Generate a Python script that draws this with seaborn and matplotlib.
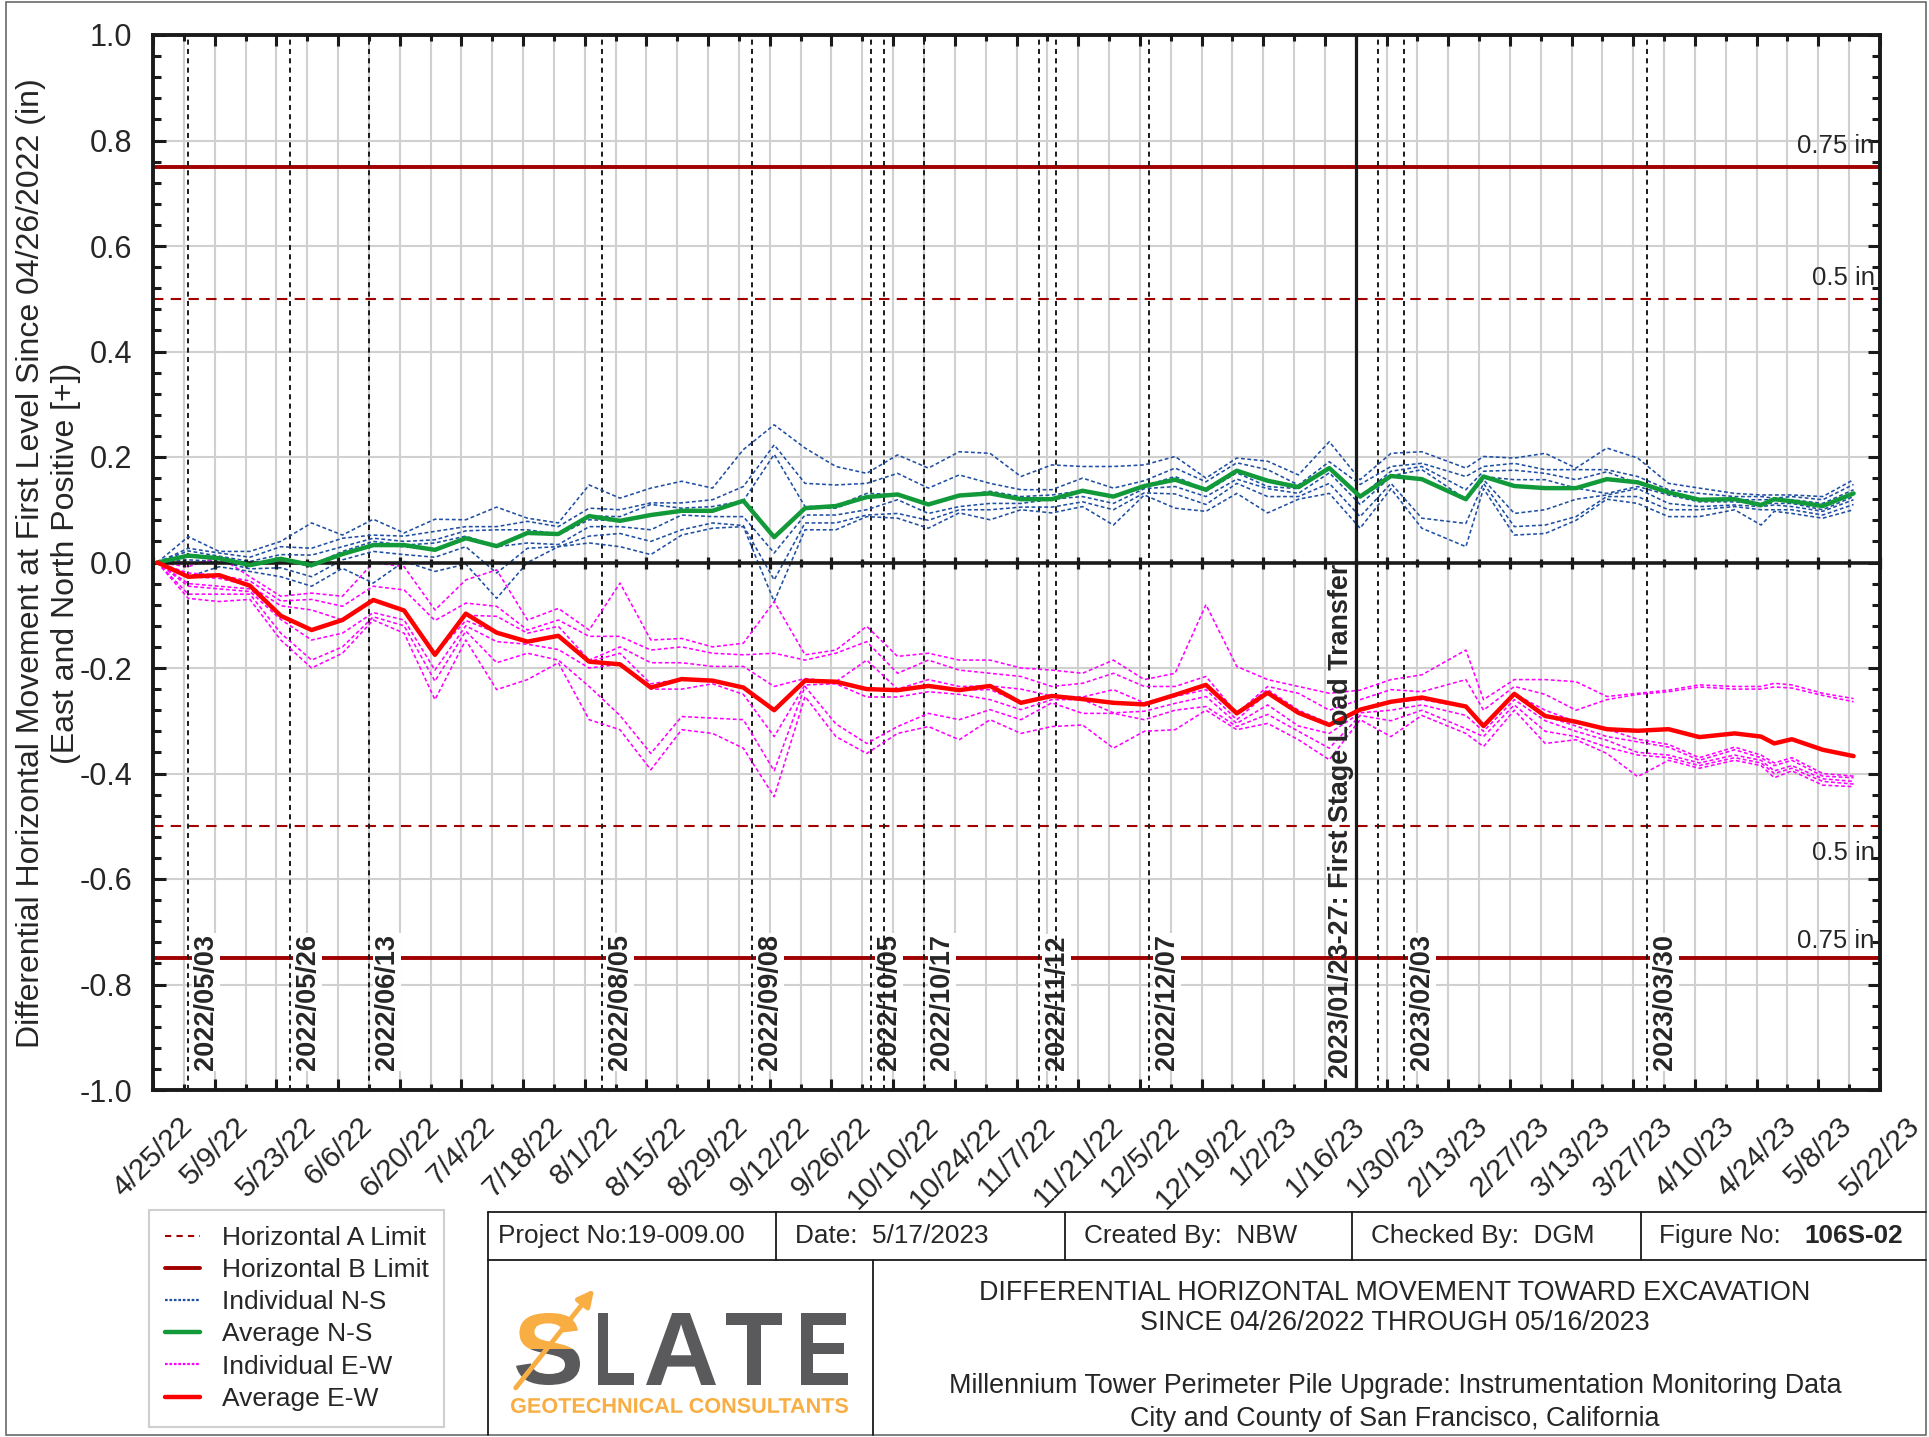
import matplotlib
matplotlib.use("Agg")
import matplotlib.pyplot as plt
import matplotlib.dates as mdates
import matplotlib.transforms as mtrans
from matplotlib.lines import Line2D
from matplotlib.patches import Rectangle, FancyArrowPatch, PathPatch
from matplotlib.textpath import TextPath
from matplotlib.font_manager import FontProperties
from matplotlib.ticker import FormatStrFormatter
import numpy as np
import pandas as pd
import seaborn as sns

# ------------------------------------------------------------
# data
# ------------------------------------------------------------
dates = [
    "2022-04-26", "2022-05-03", "2022-05-10", "2022-05-17", "2022-05-24", "2022-05-31",
    "2022-06-07", "2022-06-14", "2022-06-21", "2022-06-28", "2022-07-05", "2022-07-12",
    "2022-07-19", "2022-07-26", "2022-08-02", "2022-08-09", "2022-08-16", "2022-08-23",
    "2022-08-30", "2022-09-06", "2022-09-13", "2022-09-20", "2022-09-27", "2022-10-04",
    "2022-10-11", "2022-10-18", "2022-10-25", "2022-11-01", "2022-11-08", "2022-11-15",
    "2022-11-22", "2022-11-29", "2022-12-06", "2022-12-13", "2022-12-20", "2022-12-27",
    "2023-01-03", "2023-01-10", "2023-01-17", "2023-01-24", "2023-01-31", "2023-02-07",
    "2023-02-17", "2023-02-21", "2023-02-28", "2023-03-07", "2023-03-14", "2023-03-21",
    "2023-03-28", "2023-04-04", "2023-04-11", "2023-04-19", "2023-04-25", "2023-04-28",
    "2023-05-02", "2023-05-09", "2023-05-16",
]

avg_ns = [0.000, 0.013, 0.008, -0.005, 0.007, -0.005, 0.016, 0.033, 0.033, 0.024,
          0.046, 0.031, 0.056, 0.054, 0.088, 0.079, 0.090, 0.098, 0.098, 0.117,
          0.048, 0.103, 0.107, 0.124, 0.129, 0.110, 0.127, 0.131, 0.120, 0.120,
          0.136, 0.125, 0.145, 0.157, 0.138, 0.174, 0.155, 0.143, 0.179, 0.125,
          0.164, 0.158, 0.120, 0.163, 0.145, 0.141, 0.141, 0.158, 0.152, 0.133,
          0.119, 0.120, 0.109, 0.120, 0.116, 0.107, 0.131]

avg_ew = [0.000, -0.027, -0.024, -0.044, -0.101, -0.128, -0.109, -0.071, -0.091, -0.175,
          -0.097, -0.133, -0.150, -0.139, -0.188, -0.193, -0.237, -0.221, -0.224, -0.237,
          -0.280, -0.224, -0.226, -0.240, -0.242, -0.234, -0.242, -0.234, -0.266, -0.253,
          -0.259, -0.266, -0.269, -0.251, -0.232, -0.286, -0.247, -0.285, -0.308, -0.279,
          -0.264, -0.256, -0.273, -0.310, -0.249, -0.291, -0.302, -0.316, -0.319, -0.316,
          -0.331, -0.324, -0.330, -0.343, -0.335, -0.355, -0.367]

# individual gauges, one row per reading date, 7 gauges per direction
ns_spread = [
    [0, 0, 0, 0, 0, 0, 0],
    [0.049, 0.027, 0.022, 0.015, 0.012, 0.005, -0.027],
    [0.021, 0.018, 0.012, 0.010, 0.008, 0.002, -0.008],
    [0.021, 0.010, 0.002, -0.003, -0.005, -0.012, -0.017],
    [0.040, 0.030, 0.015, 0.008, 0.005, -0.010, -0.027],
    [0.075, 0.027, 0.014, -0.005, -0.008, -0.027, -0.045],
    [0.052, 0.046, 0.030, 0.021, 0.016, 0.005, -0.011],
    [0.082, 0.052, 0.046, 0.040, 0.033, 0.021, -0.039],
    [0.056, 0.050, 0.040, 0.033, 0.030, 0.015, 0.002],
    [0.082, 0.059, 0.043, 0.037, 0.024, 0.010, -0.017],
    [0.081, 0.068, 0.060, 0.050, 0.046, 0.030, -0.003],
    [0.105, 0.068, 0.062, 0.031, 0.030, -0.020, -0.068],
    [0.084, 0.078, 0.062, 0.056, 0.037, 0.027, 0.000],
    [0.075, 0.068, 0.054, 0.052, 0.034, 0.030, 0.030],
    [0.147, 0.103, 0.088, 0.081, 0.068, 0.050, 0.037],
    [0.122, 0.100, 0.087, 0.079, 0.068, 0.055, 0.030],
    [0.141, 0.113, 0.110, 0.090, 0.062, 0.040, 0.015],
    [0.154, 0.113, 0.103, 0.098, 0.090, 0.062, 0.052],
    [0.141, 0.119, 0.106, 0.098, 0.087, 0.075, 0.065],
    [0.214, 0.144, 0.117, 0.115, 0.087, 0.070, 0.068],
    [0.261, 0.223, 0.205, 0.048, 0.018, -0.033, -0.074],
    [0.217, 0.150, 0.106, 0.103, 0.090, 0.075, 0.062],
    [0.182, 0.147, 0.107, 0.103, 0.090, 0.075, 0.062],
    [0.169, 0.150, 0.131, 0.124, 0.100, 0.090, 0.087],
    [0.204, 0.169, 0.129, 0.128, 0.119, 0.093, 0.084],
    [0.179, 0.141, 0.110, 0.109, 0.093, 0.080, 0.065],
    [0.210, 0.166, 0.127, 0.125, 0.106, 0.100, 0.094],
    [0.207, 0.150, 0.135, 0.131, 0.112, 0.100, 0.081],
    [0.163, 0.138, 0.125, 0.120, 0.112, 0.105, 0.100],
    [0.185, 0.138, 0.128, 0.122, 0.120, 0.105, 0.094],
    [0.182, 0.160, 0.136, 0.135, 0.125, 0.115, 0.106],
    [0.182, 0.141, 0.125, 0.125, 0.112, 0.100, 0.071],
    [0.185, 0.155, 0.145, 0.145, 0.140, 0.132, 0.128],
    [0.201, 0.179, 0.163, 0.157, 0.144, 0.130, 0.103],
    [0.160, 0.153, 0.138, 0.135, 0.125, 0.110, 0.097],
    [0.198, 0.189, 0.174, 0.170, 0.158, 0.150, 0.131],
    [0.192, 0.176, 0.155, 0.144, 0.140, 0.125, 0.094],
    [0.166, 0.147, 0.143, 0.140, 0.131, 0.125, 0.120],
    [0.229, 0.191, 0.180, 0.179, 0.170, 0.150, 0.131],
    [0.157, 0.148, 0.125, 0.125, 0.110, 0.087, 0.065],
    [0.207, 0.182, 0.173, 0.164, 0.163, 0.150, 0.140],
    [0.210, 0.188, 0.182, 0.176, 0.158, 0.084, 0.065],
    [0.179, 0.163, 0.138, 0.120, 0.119, 0.074, 0.030],
    [0.201, 0.182, 0.173, 0.163, 0.157, 0.150, 0.140],
    [0.198, 0.188, 0.175, 0.157, 0.093, 0.068, 0.052],
    [0.207, 0.176, 0.169, 0.157, 0.100, 0.071, 0.055],
    [0.179, 0.176, 0.157, 0.141, 0.120, 0.087, 0.080],
    [0.217, 0.176, 0.172, 0.131, 0.128, 0.125, 0.120],
    [0.198, 0.163, 0.150, 0.144, 0.140, 0.125, 0.112],
    [0.150, 0.138, 0.131, 0.128, 0.112, 0.100, 0.087],
    [0.141, 0.131, 0.119, 0.115, 0.106, 0.100, 0.087],
    [0.131, 0.125, 0.119, 0.115, 0.109, 0.106, 0.100],
    [0.128, 0.125, 0.119, 0.112, 0.106, 0.100, 0.071],
    [0.128, 0.122, 0.119, 0.112, 0.109, 0.100, 0.097],
    [0.128, 0.125, 0.119, 0.112, 0.106, 0.100, 0.093],
    [0.125, 0.119, 0.112, 0.100, 0.097, 0.090, 0.084],
    [0.157, 0.148, 0.138, 0.125, 0.119, 0.110, 0.100],
]

ew_spread = [
    [0, 0, 0, 0, 0, 0, 0],
    [-0.008, -0.020, -0.027, -0.040, -0.045, -0.060, -0.068],
    [0.011, -0.024, -0.030, -0.045, -0.050, -0.060, -0.074],
    [-0.027, -0.035, -0.044, -0.050, -0.055, -0.060, -0.070],
    [-0.064, -0.073, -0.082, -0.101, -0.108, -0.134, -0.147],
    [-0.058, -0.070, -0.090, -0.128, -0.147, -0.185, -0.200],
    [-0.064, -0.083, -0.109, -0.110, -0.134, -0.160, -0.172],
    [0.000, -0.045, -0.070, -0.071, -0.095, -0.103, -0.109],
    [-0.008, -0.052, -0.090, -0.091, -0.109, -0.120, -0.134],
    [-0.090, -0.110, -0.172, -0.175, -0.204, -0.225, -0.260],
    [-0.033, -0.077, -0.100, -0.110, -0.120, -0.130, -0.147],
    [-0.014, -0.083, -0.102, -0.133, -0.150, -0.190, -0.241],
    [-0.109, -0.128, -0.134, -0.150, -0.155, -0.172, -0.222],
    [-0.087, -0.109, -0.121, -0.139, -0.165, -0.185, -0.190],
    [-0.128, -0.140, -0.185, -0.188, -0.200, -0.235, -0.298],
    [-0.039, -0.140, -0.160, -0.172, -0.193, -0.290, -0.317],
    [-0.147, -0.166, -0.190, -0.230, -0.240, -0.362, -0.393],
    [-0.144, -0.160, -0.190, -0.221, -0.240, -0.292, -0.317],
    [-0.160, -0.172, -0.197, -0.224, -0.230, -0.295, -0.324],
    [-0.153, -0.175, -0.197, -0.237, -0.250, -0.298, -0.352],
    [-0.074, -0.172, -0.235, -0.280, -0.330, -0.395, -0.444],
    [-0.175, -0.185, -0.220, -0.224, -0.232, -0.235, -0.254],
    [-0.166, -0.172, -0.226, -0.229, -0.230, -0.306, -0.330],
    [-0.121, -0.150, -0.185, -0.240, -0.255, -0.343, -0.362],
    [-0.178, -0.210, -0.240, -0.242, -0.255, -0.311, -0.324],
    [-0.172, -0.185, -0.222, -0.234, -0.245, -0.286, -0.311],
    [-0.185, -0.204, -0.235, -0.242, -0.250, -0.298, -0.336],
    [-0.185, -0.210, -0.234, -0.241, -0.260, -0.279, -0.298],
    [-0.200, -0.216, -0.240, -0.266, -0.279, -0.298, -0.324],
    [-0.204, -0.235, -0.253, -0.254, -0.260, -0.266, -0.311],
    [-0.210, -0.229, -0.255, -0.259, -0.260, -0.286, -0.308],
    [-0.185, -0.210, -0.241, -0.266, -0.285, -0.286, -0.352],
    [-0.222, -0.235, -0.266, -0.269, -0.282, -0.298, -0.320],
    [-0.210, -0.235, -0.251, -0.254, -0.267, -0.280, -0.317],
    [-0.080, -0.216, -0.232, -0.241, -0.254, -0.273, -0.280],
    [-0.197, -0.286, -0.286, -0.298, -0.305, -0.311, -0.317],
    [-0.222, -0.235, -0.241, -0.247, -0.270, -0.288, -0.305],
    [-0.235, -0.248, -0.280, -0.285, -0.310, -0.320, -0.336],
    [-0.248, -0.280, -0.305, -0.308, -0.324, -0.352, -0.374],
    [-0.242, -0.260, -0.279, -0.280, -0.285, -0.290, -0.298],
    [-0.222, -0.241, -0.264, -0.265, -0.280, -0.300, -0.330],
    [-0.213, -0.245, -0.256, -0.260, -0.270, -0.280, -0.290],
    [-0.166, -0.222, -0.273, -0.274, -0.290, -0.315, -0.324],
    [-0.260, -0.280, -0.310, -0.311, -0.320, -0.330, -0.349],
    [-0.222, -0.235, -0.249, -0.250, -0.260, -0.270, -0.280],
    [-0.222, -0.250, -0.280, -0.291, -0.300, -0.320, -0.343],
    [-0.226, -0.280, -0.302, -0.310, -0.320, -0.330, -0.336],
    [-0.254, -0.260, -0.316, -0.330, -0.337, -0.350, -0.362],
    [-0.248, -0.250, -0.335, -0.340, -0.360, -0.365, -0.406],
    [-0.242, -0.245, -0.345, -0.350, -0.365, -0.370, -0.375],
    [-0.232, -0.236, -0.370, -0.375, -0.380, -0.385, -0.390],
    [-0.235, -0.240, -0.350, -0.355, -0.365, -0.370, -0.375],
    [-0.235, -0.240, -0.365, -0.370, -0.375, -0.380, -0.385],
    [-0.229, -0.236, -0.380, -0.385, -0.395, -0.400, -0.408],
    [-0.232, -0.238, -0.370, -0.375, -0.385, -0.390, -0.395],
    [-0.248, -0.252, -0.400, -0.405, -0.410, -0.415, -0.422],
    [-0.258, -0.264, -0.405, -0.408, -0.415, -0.420, -0.425],
]

event_dates = ["2022-05-03", "2022-05-26", "2022-06-13", "2022-08-05", "2022-09-08",
               "2022-10-05", "2022-10-17", "2022-11-12", "2022-12-07", "2023-02-03",
               "2023-03-30"]
event_labels = ["2022/05/03", "2022/05/26", "2022/06/13", "2022/08/05", "2022/09/08",
                "2022/10/05", "2022/10/17", "2022/11/12", "2022/12/07", "2023/02/03",
                "2023/03/30"]
extra_event_dates = ["2022-10-08", "2022-11-16", "2023-01-28"]
load_transfer_date = "2023-01-23"
load_transfer_label = "2023/01/23-27: First Stage Load Transfer"

limit_b = 0.75
limit_a = 0.5

legend_labels = ["Horizontal A Limit", "Horizontal B Limit", "Individual N-S",
                 "Average N-S", "Individual E-W", "Average E-W"]

# ------------------------------------------------------------
# style
# ------------------------------------------------------------
sns.set_theme(style="white")
plt.rcParams['font.family'] = ['Liberation Sans', 'DejaVu Sans']
plt.rcParams['axes.unicode_minus'] = False

BLUE = '#1F4FA3'
GREEN = '#129A3A'
RED = '#FF0000'
MAGENTA = '#FF00FF'
DARKRED = '#A00000'
GRID = '#d0d0d0'
ORANGE = '#F8AE42'
LOGO_GRAY = '#5A5A5C'

W, H = 1929, 1437
fig = plt.figure(figsize=(W / 100, H / 100), dpi=100)
fig.patch.set_facecolor('white')


def fx(x):
    return x / W


def fy(y):
    return 1 - y / H


ax = fig.add_axes([fx(153), fy(1090), fx(1880) - fx(153), fy(35) - fy(1090)])

day = pd.to_datetime(dates)

# individual gauges
ns = pd.DataFrame(ns_spread, columns=[f"NS-{k + 1}" for k in range(7)])
ns["date"] = day
ns_long = ns.melt(id_vars="date", var_name="gauge", value_name="move")
ew = pd.DataFrame(ew_spread, columns=[f"EW-{k + 1}" for k in range(7)])
ew["date"] = day
ew_long = ew.melt(id_vars="date", var_name="gauge", value_name="move")

sns.lineplot(data=ns_long, x="date", y="move", units="gauge", estimator=None,
             color=BLUE, lw=1.15, linestyle=(0, (2.4, 1.6)), legend=False, ax=ax, zorder=3.5)
sns.lineplot(data=ew_long, x="date", y="move", units="gauge", estimator=None,
             color=MAGENTA, lw=1.15, linestyle=(0, (2.4, 1.6)), legend=False, ax=ax, zorder=3.5)

# averages
sns.lineplot(x=day, y=avg_ns, color=GREEN, lw=3.2, ax=ax, zorder=5, legend=False)
sns.lineplot(x=day, y=avg_ew, color=RED, lw=3.2, ax=ax, zorder=5, legend=False)
ax.set_xlabel('')
ax.set_ylabel('')

# limits
for lvl in (limit_b, -limit_b):
    ax.axhline(lvl, color=DARKRED, lw=2.8, zorder=2)
for lvl in (limit_a, -limit_a):
    ax.axhline(lvl, color=DARKRED, lw=1.5, ls=(0, (5, 3.5)), zorder=2)

lim_tr = mtrans.blended_transform_factory(ax.transAxes, ax.transData)
above = mtrans.offset_copy(lim_tr, fig=fig, x=0, y=9, units='dots')
above_lo = mtrans.offset_copy(lim_tr, fig=fig, x=0, y=5, units='dots')
below = mtrans.offset_copy(lim_tr, fig=fig, x=0, y=-15, units='dots')
ax.text(0.997, limit_b, f"{limit_b} in", transform=above, ha='right', va='bottom', fontsize=18.5, zorder=6)
ax.text(0.997, limit_a, f"{limit_a} in", transform=above, ha='right', va='bottom', fontsize=18.5, zorder=6)
ax.text(0.997, -limit_a, f"{limit_a} in", transform=below, ha='right', va='top', fontsize=18.5, zorder=6)
ax.text(0.997, -limit_b, f"{limit_b} in", transform=above_lo, ha='right', va='bottom', fontsize=18.5, zorder=6)

# construction events
ev_style = dict(color='k', lw=1.4, ls=(0, (2.6, 2.2)), zorder=3)
right_of = mtrans.offset_copy(ax.transData, fig=fig, x=5, y=0, units='dots')
for d, lab in zip(event_dates, event_labels):
    xd = mdates.date2num(pd.Timestamp(d))
    ax.axvline(xd, **ev_style)
    ax.text(xd, -0.962, lab, transform=right_of, rotation=90, ha='left', va='bottom',
            fontsize=19.5, fontweight='bold', zorder=2.5,
            bbox=dict(fc='white', ec='none', pad=0.8))
for d in extra_event_dates:
    ax.axvline(mdates.date2num(pd.Timestamp(d)), **ev_style)

xlt = mdates.date2num(pd.Timestamp(load_transfer_date))
ax.axvline(xlt, color='k', lw=2.3, zorder=4.5)
left_of = mtrans.offset_copy(ax.transData, fig=fig, x=-2, y=0, units='dots')
ax.text(xlt, -0.977, load_transfer_label, transform=left_of, rotation=90, ha='right',
        va='bottom', fontsize=19.4, fontweight='bold', zorder=6)

# zero line with cross ticks
major_ticks = pd.date_range("2022-04-25", "2023-05-22", freq="14D")
minor_ticks = pd.date_range("2022-05-02", "2023-05-15", freq="14D")
ax.axhline(0, color='k', lw=2.6, zorder=4.5)
ax.plot(mdates.date2num(major_ticks), np.zeros(len(major_ticks)), ls='none', marker='|',
        ms=9, mew=2.3, color='k', zorder=4.6, clip_on=False)
ax.plot(mdates.date2num(minor_ticks), np.zeros(len(minor_ticks)), ls='none', marker='|',
        ms=5.5, mew=2.3, color='k', zorder=4.6)

# axes
ax.set_xlim(mdates.date2num(pd.Timestamp("2022-04-25")), mdates.date2num(pd.Timestamp("2023-05-22")))
ax.set_ylim(-1, 1)
ax.set_xticks(mdates.date2num(major_ticks))
ax.set_xticks(mdates.date2num(minor_ticks), minor=True)
ax.set_xticklabels([f"{t.month}/{t.day}/{t.year % 100}" for t in major_ticks],
                   rotation=45, ha='center')
ax.set_yticks([round(v, 1) + 0.0 for v in np.arange(-1.0, 1.01, 0.2)])
ax.set_yticks([round(v, 2) for v in np.arange(-1.0, 1.01, 0.04)], minor=True)
ax.yaxis.set_major_formatter(FormatStrFormatter('%.1f'))

ax.set_axisbelow(True)
ax.grid(True, axis='y', which='major', color=GRID, lw=1.5)
ax.grid(True, axis='x', which='both', color=GRID, lw=1.5)

ax.tick_params(axis='x', which='both', direction='in', top=True, bottom=True, width=2.2, color='k')
ax.tick_params(axis='x', which='major', length=8, pad=16, labelsize=21.5)
ax.tick_params(axis='x', which='minor', length=4.5)
ax.tick_params(axis='y', which='both', direction='in', left=True, right=True, width=2.2, color='k')
ax.tick_params(axis='y', which='major', length=9, pad=15, labelsize=22)
ax.tick_params(axis='y', which='minor', length=5.5)
for s in ax.spines.values():
    s.set_visible(True)
    s.set_linewidth(2.8)
    s.set_color('k')

fig.text(fx(31), fy(563), "Differential Horizontal Movement at First Level Since 04/26/2022 (in)",
         rotation=90, ha='center', va='center', fontsize=23)
fig.text(fx(66), fy(563), "(East and North Positive [+])",
         rotation=90, ha='center', va='center', fontsize=23)

# legend
handles = [
    Line2D([], [], color=DARKRED, lw=1.5, ls=(0, (3, 2.5))),
    Line2D([], [], color=DARKRED, lw=2.8),
    Line2D([], [], color=BLUE, lw=1.6, ls=(0, (1.2, 0.8))),
    Line2D([], [], color=GREEN, lw=3.2),
    Line2D([], [], color=MAGENTA, lw=1.6, ls=(0, (1.2, 0.8))),
    Line2D([], [], color=RED, lw=3.2),
]
leg = fig.legend(handles, legend_labels, loc='upper left', bbox_to_anchor=(fx(149), fy(1210)),
                 bbox_transform=fig.transFigure, frameon=True, fancybox=False,
                 edgecolor='#c4c4c4', fontsize=19, handlelength=1.35, handletextpad=0.8,
                 labelspacing=0.31, borderpad=0.6, borderaxespad=0)
leg.get_frame().set_linewidth(1.5)

# ------------------------------------------------------------
# title block
# ------------------------------------------------------------
def hline(x1, x2, y, lw=1.3, color='k'):
    fig.add_artist(Line2D([fx(x1), fx(x2)], [fy(y), fy(y)], transform=fig.transFigure, color=color, lw=lw))


def vline(x, y1, y2, lw=1.3, color='k'):
    fig.add_artist(Line2D([fx(x), fx(x)], [fy(y1), fy(y2)], transform=fig.transFigure, color=color, lw=lw))


fig.add_artist(Rectangle((fx(6), fy(1435)), fx(1926) - fx(6), fy(2) - fy(1435),
                         transform=fig.transFigure, fill=False, ec='#6a6a6a', lw=1.2))
hline(488, 1926, 1212)
hline(488, 1926, 1260)
vline(488, 1212, 1435)
for xv in (776, 1064.5, 1352, 1640.5):
    vline(xv, 1212, 1260)
vline(872.5, 1260, 1435)

fs = 18.8
fig.text(fx(498), fy(1243), "Project No:19-009.00", va='baseline', fontsize=fs)
fig.text(fx(795), fy(1243), "Date:  5/17/2023", va='baseline', fontsize=fs)
fig.text(fx(1084), fy(1243), "Created By:  NBW", va='baseline', fontsize=fs)
fig.text(fx(1371), fy(1243), "Checked By:  DGM", va='baseline', fontsize=fs)
fig.text(fx(1659), fy(1243), "Figure No:", va='baseline', fontsize=fs)
fig.text(fx(1804), fy(1243), "106S-02", va='baseline', fontsize=fs, fontweight='bold')

cx = 1395
fs2 = 19.4
fig.text(fx(cx), fy(1300), "DIFFERENTIAL HORIZONTAL MOVEMENT TOWARD EXCAVATION", ha='center', va='baseline', fontsize=fs2)
fig.text(fx(cx), fy(1330), "SINCE 04/26/2022 THROUGH 05/16/2023", ha='center', va='baseline', fontsize=fs2)
fig.text(fx(cx), fy(1393), "Millennium Tower Perimeter Pile Upgrade: Instrumentation Monitoring Data", ha='center', va='baseline', fontsize=fs2)
fig.text(fx(cx), fy(1426), "City and County of San Francisco, California", ha='center', va='baseline', fontsize=fs2)


# logo
def glyph(text, x0, x1, base, cap, color, weight='bold', clip=None):
    fp = FontProperties(family='Liberation Sans', weight=weight)
    tp = TextPath((0, 0), text, size=1, prop=fp)
    ext = tp.get_extents()
    sx = (x1 - x0) / ext.width
    sy = cap / ext.height
    tr = mtrans.Affine2D().translate(-ext.x0, -ext.y0).scale(sx / W, sy / H).translate(x0 / W, 1 - base / H)
    patch = PathPatch(tr.transform_path(tp), transform=fig.transFigure, fc=color, ec='none')
    fig.add_artist(patch)
    if clip is not None:
        patch.set_clip_path(clip)
    return patch


top_clip = Rectangle((fx(500), fy(1349)), fx(600) - fx(500), fy(1300) - fy(1349), transform=fig.transFigure)
bot_clip = Rectangle((fx(500), fy(1395)), fx(600) - fx(500), fy(1349) - fy(1395), transform=fig.transFigure)
glyph("S", 516, 580, 1385, 72, ORANGE, clip=top_clip)
glyph("S", 516, 580, 1385, 72, LOGO_GRAY, clip=bot_clip)
for ch, a, b in (("L", 598, 634), ("A", 646, 716), ("T", 726, 782), ("E", 801, 848)):
    glyph(ch, a, b, 1385, 72, LOGO_GRAY)
glyph("GEOTECHNICAL CONSULTANTS", 511, 848, 1413, 15, ORANGE)
fig.add_artist(FancyArrowPatch((fx(514), fy(1390)), (fx(596), fy(1287)), transform=fig.transFigure,
                               arrowstyle='-|>', mutation_scale=24, lw=3.5, color=ORANGE))

fig.savefig("out.png", dpi=100, facecolor='white')
